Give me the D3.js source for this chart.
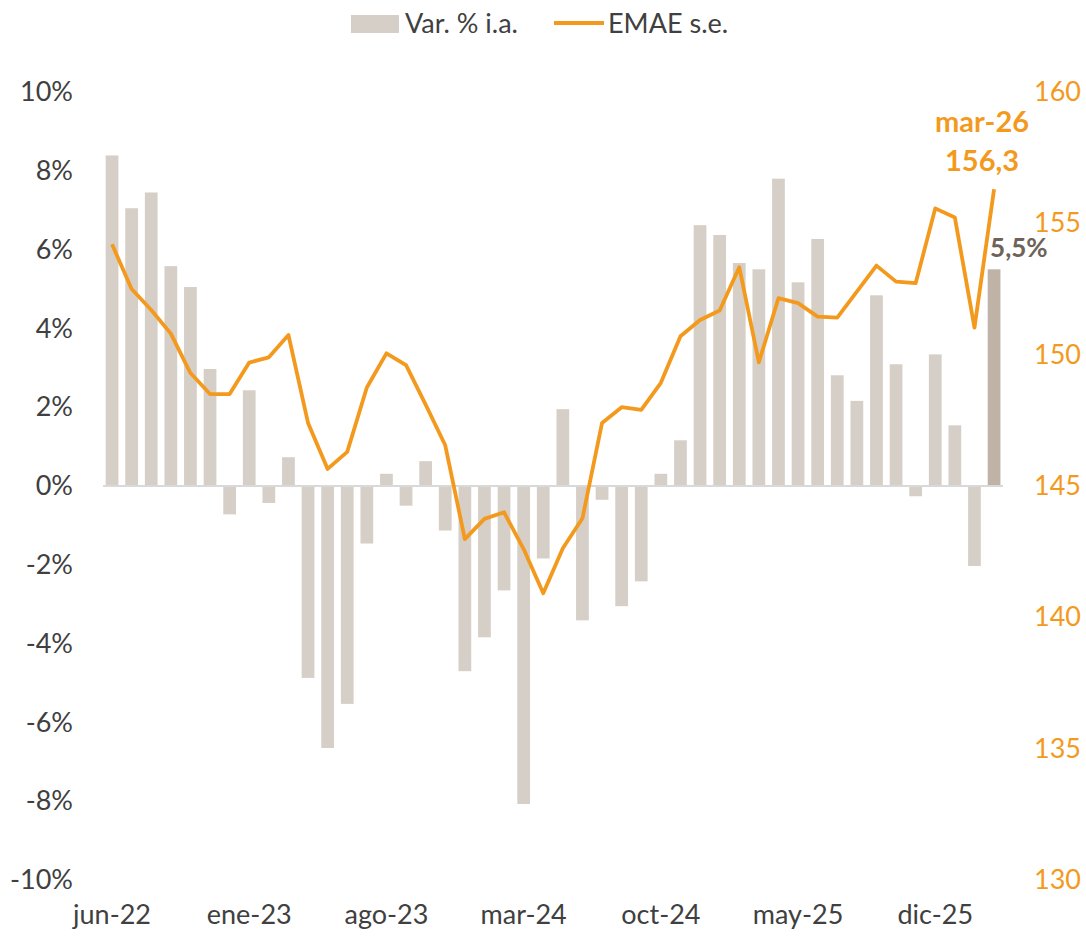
<!DOCTYPE html>
<html>
<head>
    <meta charset="utf-8">
    <title>EMAE</title>
    <script src="https://d3js.org/d3.v7.min.js"></script>
    <style>
        body { margin: 0; background: #fff; }
        text { font-family: Lato, "Open Sans", sans-serif; }
    </style>
</head>
<body>
    <div id="chart"></div>
    <script>
        // meses (jun-22 a mar-26)
        var months = [
            "jun-22", "jul-22", "ago-22", "sep-22", "oct-22", "nov-22", "dic-22",
            "ene-23", "feb-23", "mar-23", "abr-23", "may-23", "jun-23", "jul-23", "ago-23", "sep-23", "oct-23", "nov-23", "dic-23",
            "ene-24", "feb-24", "mar-24", "abr-24", "may-24", "jun-24", "jul-24", "ago-24", "sep-24", "oct-24", "nov-24", "dic-24",
            "ene-25", "feb-25", "mar-25", "abr-25", "may-25", "jun-25", "jul-25", "ago-25", "sep-25", "oct-25", "nov-25", "dic-25",
            "ene-26", "feb-26", "mar-26"
        ];

        // variacion % interanual
        var varIa = [
            8.39, 7.05, 7.45, 5.58, 5.05, 2.97, -0.72,
            2.43, -0.43, 0.73, -4.87, -6.65, -5.53, -1.46, 0.31, -0.50, 0.63, -1.13, -4.70,
            -3.84, -2.65, -8.07, -1.84, 1.95, -3.41, -0.35, -3.05, -2.42, 0.31, 1.16, 6.62,
            6.37, 5.66, 5.50, 7.80, 5.17, 6.27, 2.81, 2.16, 4.84, 3.09, -0.26, 3.34,
            1.54, -2.03, 5.5
        ];

        // EMAE desestacionalizado
        var emae = [
            154.2, 152.5, 151.7, 150.8, 149.3, 148.5, 148.5,
            149.7, 149.9, 150.75, 147.4, 145.65, 146.3, 148.75, 150.05, 149.6, 148.1, 146.55, 142.98,
            143.75, 144.0, 142.6, 140.92, 142.63, 143.77, 147.4, 148.0, 147.9, 148.93, 150.7, 151.32,
            151.68, 153.33, 149.71, 152.15, 151.96, 151.45, 151.41, 152.4, 153.39, 152.78, 152.72, 155.57,
            155.22, 151.03, 156.3
        ];

        var leftTicks = [-10, -8, -6, -4, -2, 0, 2, 4, 6, 8, 10];
        var rightTicks = [130, 135, 140, 145, 150, 155, 160];
        var xTickLabels = ["jun-22", "ene-23", "ago-23", "mar-24", "oct-24", "may-25", "dic-25"];

        var width = 1086, height = 940;
        var plotTop = 92, plotBottom = 880;

        var svg = d3.select("#chart")
            .append("svg")
            .attr("width", width)
            .attr("height", height);

        var x = d3.scaleBand()
            .domain(months)
            .range([98.8, 1007.3])
            .paddingInner(0.35)
            .paddingOuter(0.35);

        var yL = d3.scaleLinear().domain([-10, 10]).range([plotBottom, plotTop]);
        var yR = d3.scaleLinear().domain([130, 160]).range([plotBottom, plotTop]);

        // barras
        svg.selectAll(".bar")
            .data(varIa)
            .enter()
            .append("rect")
            .attr("class", "bar")
            .attr("x", function (d, i) { return x(months[i]); })
            .attr("width", x.bandwidth())
            .attr("y", function (d) { return yL(Math.max(0, d)); })
            .attr("height", function (d) { return Math.abs(yL(d) - yL(0)); })
            .attr("fill", function (d, i) { return i === varIa.length - 1 ? "#BFB2A6" : "#D6CFC7"; });

        // linea de cero
        svg.append("line")
            .attr("x1", 103).attr("x2", 1003)
            .attr("y1", yL(0)).attr("y2", yL(0))
            .attr("stroke", "#D9D9D9")
            .attr("stroke-width", 2);

        // linea EMAE
        var line = d3.line()
            .x(function (d, i) { return x(months[i]) + x.bandwidth() / 2; })
            .y(function (d) { return yR(d); });

        svg.append("path")
            .datum(emae)
            .attr("d", line)
            .attr("fill", "none")
            .attr("stroke", "#F39A1E")
            .attr("stroke-width", 3.8)
            .attr("stroke-linejoin", "round");

        // ejes
        var axisL = svg.append("g")
            .attr("transform", "translate(73,0)")
            .call(d3.axisLeft(yL).tickValues(leftTicks).tickSize(0).tickPadding(0)
                .tickFormat(function (d) { return d + "%"; }));
        axisL.select(".domain").remove();
        axisL.selectAll("text")
            .attr("fill", "#404040")
            .style("font-size", "27px");

        var axisR = svg.append("g")
            .attr("transform", "translate(1034,0)")
            .call(d3.axisRight(yR).tickValues(rightTicks).tickSize(0).tickPadding(0));
        axisR.select(".domain").remove();
        axisR.selectAll("text")
            .attr("fill", "#F39A1E")
            .style("font-size", "27px");

        var axisX = svg.append("g")
            .attr("transform", "translate(0,905)")
            .call(d3.axisBottom(x).tickValues(xTickLabels).tickSize(0).tickPadding(0));
        axisX.select(".domain").remove();
        axisX.selectAll("text")
            .attr("fill", "#404040")
            .style("font-size", "27px");

        // etiquetas del ultimo dato
        var last = months.length - 1;
        var cx = x(months[last]) + x.bandwidth() / 2;
        svg.append("text")
            .attr("x", cx - 12).attr("y", 132)
            .attr("text-anchor", "middle")
            .attr("fill", "#F39A1E")
            .style("font-size", "29px").style("font-weight", "bold")
            .text(months[last]);
        svg.append("text")
            .attr("x", cx - 12).attr("y", 171)
            .attr("text-anchor", "middle")
            .attr("fill", "#F39A1E")
            .style("font-size", "29px").style("font-weight", "bold")
            .text(d3.format(".1f")(emae[last]).replace(".", ","));
        svg.append("text")
            .attr("x", cx - 4).attr("y", 257)
            .attr("fill", "#6F6259")
            .style("font-size", "26px").style("font-weight", "bold")
            .text(d3.format(".1f")(varIa[last]).replace(".", ",") + "%");

        // leyenda
        var legend = svg.append("g");
        legend.append("rect")
            .attr("x", 351).attr("y", 15).attr("width", 48).attr("height", 18)
            .attr("fill", "#D6CFC7");
        legend.append("text")
            .attr("x", 405).attr("y", 33)
            .attr("fill", "#404040")
            .style("font-size", "27px")
            .text("Var. % i.a.");
        legend.append("line")
            .attr("x1", 554).attr("x2", 604).attr("y1", 23).attr("y2", 23)
            .attr("stroke", "#F39A1E").attr("stroke-width", 3.8);
        legend.append("text")
            .attr("x", 608).attr("y", 33)
            .attr("fill", "#404040")
            .style("font-size", "27px")
            .text("EMAE s.e.");
    </script>
</body>
</html>
